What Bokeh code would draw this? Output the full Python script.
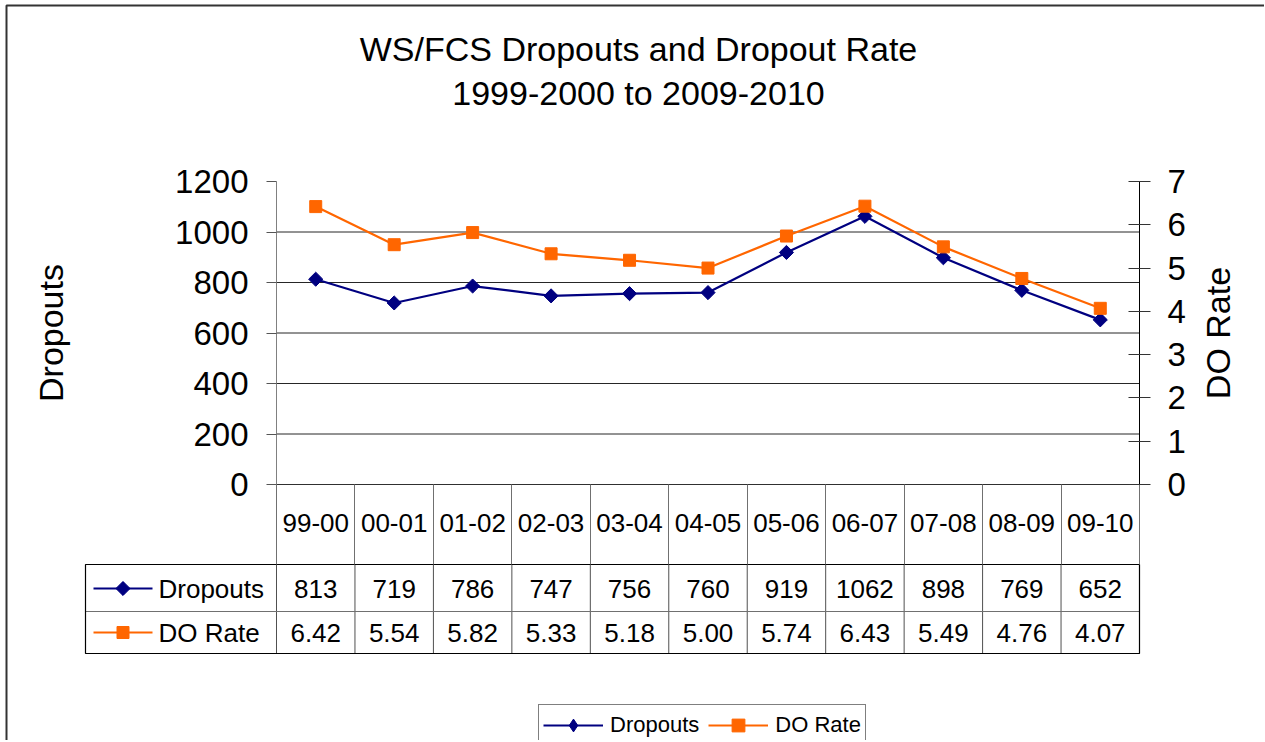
import math
from bokeh.plotting import figure
from bokeh.models import (Range1d, LinearAxis, FixedTicker, Legend, LegendItem)
from bokeh.core.properties import value
from bokeh.embed import file_html
from bokeh.resources import INLINE

# ---------------- data ----------------
periods = ["99-00", "00-01", "01-02", "02-03", "03-04", "04-05",
           "05-06", "06-07", "07-08", "08-09", "09-10"]
dropouts = [813, 719, 786, 747, 756, 760, 919, 1062, 898, 769, 652]
do_rate = [6.42, 5.54, 5.82, 5.33, 5.18, 5.00, 5.74, 6.43, 5.49, 4.76, 4.07]
dropout_ticks = [0, 200, 400, 600, 800, 1000, 1200]
rate_ticks = [0, 1, 2, 3, 4, 5, 6, 7]
series_names = ["Dropouts", "DO Rate"]
title_lines = ["WS/FCS Dropouts and Dropout Rate", "1999-2000 to 2009-2010"]

NAVY = "#000080"
ORANGE = "#FF6600"
FONT = "Liberation Sans"

n = len(periods)
xc = [i + 0.5 for i in range(n)]
bounds = list(range(n + 1))

# ---------------- layout (pixels on the page) ----------------
W, H = 1264, 740
PLOT_L, PLOT_R, PLOT_T, PLOT_B = 276, 1139, 181, 484
CPX = (PLOT_R - PLOT_L) / n
PPY = (PLOT_B - PLOT_T) / dropout_ticks[-1]
RPY = (PLOT_B - PLOT_T) / rate_ticks[-1]


def cx(px):
    return (px - PLOT_L) / CPX


def dy(py):
    return (PLOT_B - py) / PPY


def dr(py):
    return (PLOT_B - py) / RPY


p = figure(width=W, height=H, x_range=Range1d(cx(0), cx(W)),
           y_range=Range1d(dy(H), dy(0)),
           x_axis_type=None, y_axis_type=None,
           output_backend="svg", toolbar_location=None,
           min_border=0, min_border_left=0, min_border_right=0,
           min_border_top=0, min_border_bottom=0,
           outline_line_color=None, background_fill_color="white",
           border_fill_color="white")
p.extra_y_ranges = {"rate": Range1d(dr(H), dr(0))}

# chart-area border
p.quad(left=[cx(6)], right=[cx(W + 20)], top=[dy(5)], bottom=[dy(H + 20)],
       fill_color=None, line_color="#333333", line_width=2)

# title
p.text(x=[cx(638)] * 2, y=[dy(48), dy(92)], text=title_lines,
       text_font=value(FONT), text_font_size="34px", text_color="black",
       text_align="center", text_baseline="middle")

# horizontal gridlines
gl = dropout_ticks[1:-1]
p.segment(x0=[0] * len(gl), y0=gl, x1=[n] * len(gl), y1=gl,
          line_color="#262626", line_width=1)

# left axis
ya = LinearAxis(ticker=FixedTicker(ticks=dropout_ticks),
                bounds=(dropout_ticks[0], dropout_ticks[-1]),
                fixed_location=0, axis_label=series_names[0])
ya.axis_label_text_font = FONT
ya.axis_label_text_font_size = "34px"
ya.axis_label_text_font_style = "normal"
ya.axis_label_text_color = "black"
ya.axis_label_standoff = 102
ya.major_label_text_font = FONT
ya.major_label_text_font_size = "33px"
ya.major_label_text_color = "black"
ya.major_label_standoff = 18
ya.major_tick_out = 10
ya.major_tick_in = 0
ya.minor_tick_line_color = None
ya.axis_line_color = "#808080"
ya.major_tick_line_color = "#555555"
p.add_layout(ya, "left")

# right axis
ra = LinearAxis(y_range_name="rate", ticker=FixedTicker(ticks=rate_ticks),
                bounds=(rate_ticks[0], rate_ticks[-1]),
                fixed_location=n)
ra.major_label_text_font = FONT
ra.major_label_text_font_size = "33px"
ra.major_label_text_color = "black"
ra.major_label_standoff = 17
ra.major_tick_out = 11
ra.major_tick_in = 11
ra.minor_tick_line_color = None
ra.axis_line_color = "black"
ra.major_tick_line_color = "#333333"
p.add_layout(ra, "right")

# right axis title (reads bottom to top, centred on the axis)
p.text(x=[cx(1217)], y=[(rate_ticks[0] + rate_ticks[-1]) / 2],
       y_range_name="rate", text=[series_names[1]], angle=math.pi / 2,
       text_font=value(FONT), text_font_size="34px", text_color="black",
       text_align="center", text_baseline="middle")

# category axis = header row of the data table
xa = LinearAxis(ticker=FixedTicker(ticks=xc, minor_ticks=bounds),
                bounds=(0, n), fixed_location=0,
                major_label_overrides={c: lab for c, lab in zip(xc, periods)})
xa.major_label_text_font = FONT
xa.major_label_text_font_size = "26px"
xa.major_label_text_color = "black"
xa.major_tick_out = 0
xa.major_tick_in = 0
xa.major_tick_line_color = None
xa.minor_tick_out = 564 - PLOT_B
xa.minor_tick_in = 0
xa.minor_tick_line_color = "#707070"
xa.major_label_standoff = -(564 - PLOT_B) + 29
xa.axis_line_color = "#303030"
p.add_layout(xa, "below")

# ---------------- data rows of the table ----------------
row_top, row_mid, row_bot = dy(564), dy(611), dy(653)
row_c = [dy(588), dy(632)]
tab_left = cx(85)

p.segment(x0=bounds, y0=[row_top] * len(bounds), x1=bounds,
          y1=[row_bot] * len(bounds), line_color="#505050", line_width=1)
p.segment(x0=[tab_left], y0=[row_mid], x1=[n], y1=[row_mid],
          line_color="#707070", line_width=1)
p.quad(left=[tab_left], right=[n], top=[row_top], bottom=[row_bot],
       fill_color=None, line_color="black", line_width=1.2)

k0, k1 = cx(93), cx(152)
km = (k0 + k1) / 2
p.segment(x0=[k0, k0], y0=row_c, x1=[k1, k1], y1=row_c,
          line_color=[NAVY, ORANGE], line_width=2)
# diamond glyph used by the legend (sits under the table key marker)
key_diamond = p.scatter([km], [row_c[0]], marker="diamond", size=13,
                        fill_color=NAVY, line_color=NAVY)
p.scatter([km], [row_c[0]], marker="square", angle=math.pi / 4,
          size=10, fill_color=NAVY, line_color=NAVY)
p.scatter([km], [row_c[1]], marker="square", size=12,
          fill_color=ORANGE, line_color=ORANGE)
p.text(x=[cx(158)] * 2, y=row_c, text=series_names,
       text_font=value(FONT), text_font_size="26px", text_color="black",
       text_align="left", text_baseline="middle")

p.text(x=xc, y=[row_c[0]] * n, text=[str(v) for v in dropouts],
       text_font=value(FONT), text_font_size="26px", text_color="black",
       text_align="center", text_baseline="middle")
p.text(x=xc, y=[row_c[1]] * n, text=["%.2f" % v for v in do_rate],
       text_font=value(FONT), text_font_size="26px", text_color="black",
       text_align="center", text_baseline="middle")

# ---------------- series ----------------
d_line = p.line(xc, dropouts, line_color=NAVY, line_width=2.2)
d_mark = p.scatter(xc, dropouts, marker="square", angle=math.pi / 4, size=10,
                   fill_color=NAVY, line_color=NAVY)
r_line = p.line(xc, do_rate, y_range_name="rate", line_color=ORANGE,
                line_width=2.2)
r_mark = p.scatter(xc, do_rate, y_range_name="rate", marker="square", size=12,
                   fill_color=ORANGE, line_color=ORANGE)

legend = Legend(items=[
    LegendItem(label=series_names[0], renderers=[d_line, key_diamond]),
    LegendItem(label=series_names[1], renderers=[r_line, r_mark]),
], location=(538, H - 746), orientation="horizontal",
    label_text_font=FONT, label_text_font_size="22px",
    label_text_color="black", glyph_width=60, glyph_height=32,
    label_standoff=7, spacing=9, padding=4, margin=0,
    border_line_color="black", border_line_width=1,
    background_fill_color="white", background_fill_alpha=1)
p.add_layout(legend)

open("out.html", "w").write(file_html(p, INLINE))
